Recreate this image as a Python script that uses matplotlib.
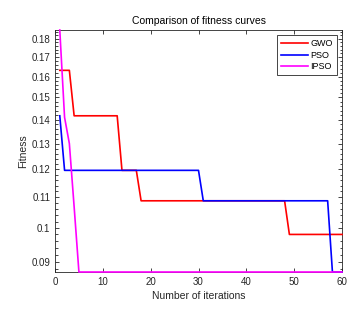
import numpy as np
import matplotlib.pyplot as plt
from matplotlib.ticker import FixedLocator, FuncFormatter, NullFormatter

plt.rcParams['font.family'] = ['Liberation Sans', 'DejaVu Sans']

iters = np.arange(1, 61)

# step curves: (start iteration, value)
gwo_steps = [(1, 0.1632), (4, 0.1417), (14, 0.1196), (18, 0.1088), (49, 0.0980)]
pso_steps = [(1, 0.1417), (2, 0.1196), (31, 0.1088), (58, 0.0872)]
ipso_head = [0.185, 0.1410, 0.1300, 0.1068]
ipso_tail = 0.0872


def expand(steps):
    vals = np.zeros(len(iters))
    for start, v in steps:
        vals[iters >= start] = v
    return vals


gwo = expand(gwo_steps)
pso = expand(pso_steps)
ipso = np.full(len(iters), ipso_tail)
ipso[:len(ipso_head)] = ipso_head

fig = plt.figure(figsize=(3.63, 3.18), dpi=100)
ax = fig.add_axes([55/363, 1-272/318, 287/363, 242/318])

ax.plot(iters, gwo, color='red', lw=1.2, label='GWO', clip_on=False, zorder=3)
ax.plot(iters, pso, color='blue', lw=1.2, label='PSO', clip_on=False, zorder=3)
ax.plot(iters, ipso, color='magenta', lw=1.2, label='IPSO', clip_on=False, zorder=4)

ax.set_yscale('log')
ax.set_xlim(0, 60)
allv = np.concatenate([gwo, pso, ipso])
ax.set_ylim(allv.min(), allv.max())

ax.xaxis.set_major_locator(FixedLocator(np.arange(0, 61, 10)))
yt = [0.09, 0.1, 0.11, 0.12, 0.13, 0.14, 0.15, 0.16, 0.17, 0.18]
ax.yaxis.set_major_locator(FixedLocator(yt))
ax.yaxis.set_major_formatter(FuncFormatter(lambda v, p: '%g' % round(v, 3)))
ax.yaxis.set_minor_locator(FixedLocator(np.arange(0.086, 0.19, 0.002)))
ax.yaxis.set_minor_formatter(NullFormatter())

ax.tick_params(which='both', direction='in', top=True, right=True,
               labelsize=7, colors='#262626', width=0.6)
ax.tick_params(which='major', length=3)
ax.tick_params(which='minor', length=1.8)
for s in ax.spines.values():
    s.set_linewidth(0.6)
    s.set_color('#262626')

ax.set_xlabel('Number of iterations', fontsize=7.5, color='#262626', labelpad=3)
ax.set_ylabel('Fitness', fontsize=7.5, color='#262626', labelpad=2)
ax.set_title('Comparison of fitness curves', fontsize=7.5, color='black', pad=4)

leg = ax.legend(loc='upper right', fontsize=6.5, fancybox=False, framealpha=1,
                edgecolor='#262626', handlelength=3, borderpad=0.4,
                labelspacing=0.3, handletextpad=0.3, borderaxespad=0.6)
leg.get_frame().set_linewidth(0.6)
leg.set_zorder(5)

fig.savefig('out.png', dpi=100)
